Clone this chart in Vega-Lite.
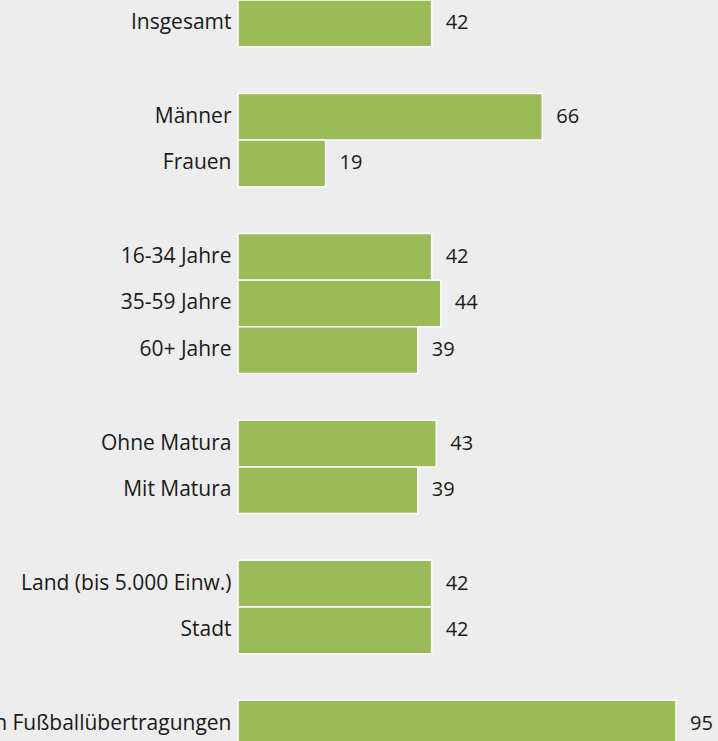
{
  "$schema": "https://vega.github.io/schema/vega-lite/v6.json",
  "width": 438,
  "height": 741,
  "autosize": {"type": "none"},
  "padding": {"left": 238, "top": 0, "right": 42, "bottom": 0},
  "background": "#ededed",
  "config": {"view": {"stroke": null}, "font": "Open Sans"},
  "data": {
    "values": [
      {"label": "Insgesamt", "value": 42},
      {"label": "Männer", "value": 66},
      {"label": "Frauen", "value": 19},
      {"label": "16-34 Jahre", "value": 42},
      {"label": "35-59 Jahre", "value": 44},
      {"label": "60+ Jahre", "value": 39},
      {"label": "Ohne Matura", "value": 43},
      {"label": "Mit Matura", "value": 39},
      {"label": "Land (bis 5.000 Einw.)", "value": 42},
      {"label": "Stadt", "value": 42},
      {"label": "Zuseher von Fußballübertragungen", "value": 95}
    ]
  },
  "encoding": {
    "y": {
      "field": "label",
      "type": "nominal",
      "sort": null,
      "scale": {
        "domain": ["Insgesamt", " ", "Männer", "Frauen", "  ", "16-34 Jahre", "35-59 Jahre", "60+ Jahre", "   ", "Ohne Matura", "Mit Matura", "    ", "Land (bis 5.000 Einw.)", "Stadt", "     ", "Zuseher von Fußballübertragungen"],
        "range": [0, 747],
        "paddingInner": 0,
        "paddingOuter": 0
      },
      "axis": {
        "title": null,
        "domain": false,
        "ticks": false,
        "labelPadding": 7,
        "labelFontSize": 21,
        "labelColor": "#1a1a1a",
        "labelFont": "Open Sans",
        "labelLimit": 0
      }
    },
    "x": {
      "field": "value",
      "type": "quantitative",
      "scale": {"domain": [0, 95], "nice": false, "zero": true},
      "axis": null
    }
  },
  "layer": [
    {
      "mark": {"type": "bar", "color": "#9bbb59", "stroke": "#ffffff", "strokeWidth": 1.5}
    },
    {
      "mark": {"type": "text", "align": "left", "baseline": "middle", "dx": 14, "fontSize": 20, "color": "#1a1a1a", "font": "Open Sans"},
      "encoding": {"text": {"field": "value", "type": "quantitative"}}
    }
  ]
}
